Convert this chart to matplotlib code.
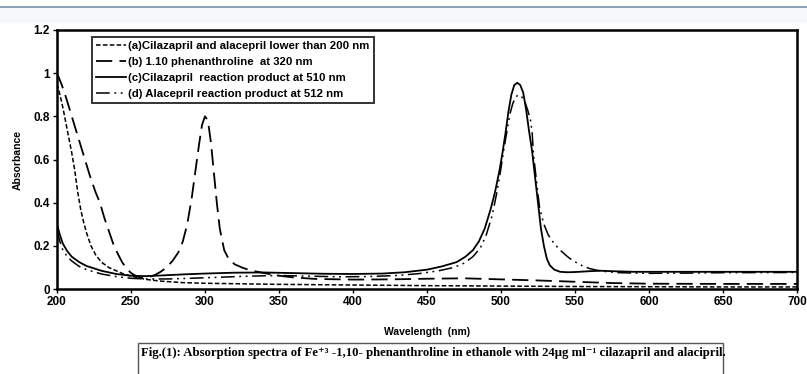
import numpy as np
import matplotlib
matplotlib.use("Agg")
import matplotlib.pyplot as plt
from matplotlib.patches import Rectangle
from matplotlib.lines import Line2D

# ---- values ----
wl_a = [200, 202, 204, 206, 208, 210, 212, 214, 216, 218, 220, 223, 226, 230, 235, 240, 245, 250,
        260, 270, 285, 300, 350, 400, 450, 500, 550, 600, 650, 700]
abs_a = [0.95, 0.90, 0.84, 0.77, 0.70, 0.63, 0.55, 0.45, 0.37, 0.31, 0.26, 0.20, 0.16, 0.125, 0.10,
         0.085, 0.07, 0.06, 0.045, 0.037, 0.03, 0.027, 0.022, 0.019, 0.016, 0.014, 0.012, 0.011, 0.01, 0.01]

wl_b = [200, 203, 206, 210, 214, 218, 222, 226, 229, 232, 235, 238, 241, 244, 247, 250, 254, 258, 262,
        266, 270, 274, 278, 282, 285, 288, 291, 294, 296, 298, 300, 302, 304, 306, 308, 310, 313, 316,
        320, 325, 330, 340, 350, 360, 375, 400, 425, 450, 475, 500, 525, 550, 575, 600, 650, 700]
abs_b = [1.0, 0.95, 0.89, 0.80, 0.71, 0.62, 0.53, 0.45, 0.40, 0.33, 0.27, 0.21, 0.165, 0.125, 0.095,
         0.075, 0.058, 0.052, 0.055, 0.065, 0.08, 0.10, 0.13, 0.17, 0.22, 0.30, 0.42, 0.57, 0.67, 0.76,
         0.80, 0.78, 0.68, 0.54, 0.40, 0.28, 0.18, 0.14, 0.115, 0.10, 0.088, 0.074, 0.062, 0.054, 0.047,
         0.044, 0.045, 0.048, 0.05, 0.045, 0.04, 0.034, 0.028, 0.025, 0.024, 0.024]

wl_c = [200, 202, 204, 207, 210, 215, 220, 230, 240, 250, 260, 270, 285, 300, 320, 340, 360, 380, 400,
        420, 435, 450, 460, 470, 476, 481, 485, 489, 493, 496, 499, 501, 503, 505, 507, 509, 511, 513,
        515, 517, 519, 521, 523, 525, 527, 529, 531, 533, 536, 540, 545, 550, 560, 567, 575, 590, 610,
        650, 700]
abs_c = [0.30, 0.25, 0.21, 0.175, 0.15, 0.125, 0.107, 0.085, 0.07, 0.062, 0.06, 0.063, 0.068, 0.072,
         0.076, 0.077, 0.074, 0.071, 0.07, 0.072, 0.078, 0.09, 0.105, 0.125, 0.15, 0.18, 0.22, 0.28, 0.37,
         0.45, 0.55, 0.63, 0.72, 0.82, 0.90, 0.945, 0.955, 0.945, 0.91, 0.83, 0.73, 0.64, 0.52, 0.40, 0.28,
         0.20, 0.14, 0.11, 0.09, 0.08, 0.078, 0.079, 0.083, 0.085, 0.083, 0.08, 0.08, 0.08, 0.08]

wl_d = [200, 202, 204, 207, 210, 215, 220, 230, 240, 250, 260, 275, 290, 310, 330, 350, 370, 390, 410,
        430, 445, 458, 468, 475, 481, 486, 490, 494, 497, 500, 502, 504, 506, 508, 510, 512, 514, 516,
        518, 520, 521, 522, 524, 526, 529, 532, 536, 540, 545, 549, 555, 560, 565, 572, 580, 600, 625,
        650, 700]
abs_d = [0.27, 0.22, 0.18, 0.15, 0.13, 0.105, 0.09, 0.07, 0.058, 0.05, 0.047, 0.047, 0.05, 0.055, 0.06,
         0.063, 0.06, 0.057, 0.058, 0.063, 0.072, 0.085, 0.10, 0.12, 0.15, 0.19, 0.25, 0.34, 0.44, 0.56,
         0.65, 0.73, 0.81, 0.86, 0.89, 0.90, 0.89, 0.87, 0.83, 0.78, 0.73, 0.62, 0.50, 0.38, 0.30, 0.25,
         0.21, 0.18, 0.15, 0.13, 0.108, 0.095, 0.087, 0.08, 0.076, 0.073, 0.074, 0.076, 0.077]

labels = ["(a)Cilazapril and alacepril lower than 200 nm",
          "(b) 1.10 phenanthroline  at 320 nm",
          "(c)Cilazapril  reaction product at 510 nm",
          "(d) Alacepril reaction product at 512 nm"]
xticks = [200, 250, 300, 350, 400, 450, 500, 550, 600, 650, 700]
yticks = [0, 0.2, 0.4, 0.6, 0.8, 1, 1.2]
ytick_labels = ["0", "0.2", "0.4", "0.6", "0.8", "1", "1.2"]

caption = ("Fig.(1): Absorption spectra of Fe\u207a\u00b3 -1,10- phenanthroline in ethanole with "
           "24\u00b5g ml\u207b\u00b9 cilazapril and alacipril.")

plt.rcParams["font.family"] = ["Liberation Sans", "DejaVu Sans"]
fig = plt.figure(figsize=(8.07, 3.74), dpi=100)

# page header strip
fig.patches.append(Rectangle((0, 0.94), 1, 0.04, transform=fig.transFigure, color="#f6f8fb", zorder=0))
fig.add_artist(Line2D([0, 1], [0.981, 0.981], color="#7d93ad", lw=1.2))

ax = fig.add_axes([0.0706, 0.227, 0.917, 0.693])
styles = [dict(ls=(0, (3, 1.5)), lw=1.1),
          dict(ls=(0, (9, 4)), lw=1.3),
          dict(ls="-", lw=1.3),
          dict(ls=(0, (9, 3, 1.2, 3, 1.2, 3)), lw=1.1)]
for (wx, ay), lab, st in zip([(wl_a, abs_a), (wl_b, abs_b), (wl_c, abs_c), (wl_d, abs_d)], labels, styles):
    ax.plot(wx, ay, color="black", label=lab, **st)

ax.set_xlim(200, 700)
ax.set_ylim(0, 1.2)
ax.set_xticks(xticks)
ax.set_yticks(yticks)
ax.set_yticklabels(ytick_labels)
for s in ax.spines.values():
    s.set_linewidth(1.8)
ax.tick_params(direction="out", length=3, width=1, labelsize=8.5, pad=2)
for t in ax.get_xticklabels() + ax.get_yticklabels():
    t.set_fontweight("bold")
ax.set_xlabel("Wavelength  (nm)", fontsize=7.5, fontweight="bold", labelpad=14)
ax.set_ylabel("Absorbance", fontsize=7.5, fontweight="bold", labelpad=8)

leg = ax.legend(loc="upper left", bbox_to_anchor=(0.047, 0.973), borderaxespad=0, frameon=True,
                fancybox=False, handlelength=2.6, handletextpad=0.2, borderpad=0.4, labelspacing=0.5,
                prop=dict(size=8.2, weight="bold"))
leg.get_frame().set_edgecolor("black")
leg.get_frame().set_linewidth(1.4)

# figure caption box
fig.patches.append(Rectangle((138 / 807, -0.01), (723 - 138) / 807, (374 - 343) / 374 + 0.01,
                             transform=fig.transFigure, fill=False, edgecolor="#555555", lw=1))
fig.text(141 / 807, 1 - 353 / 374, caption, fontsize=9.2, fontweight="bold", va="center", ha="left",
         family=["Liberation Serif", "DejaVu Serif"])

fig.savefig("out.png", dpi=100)
